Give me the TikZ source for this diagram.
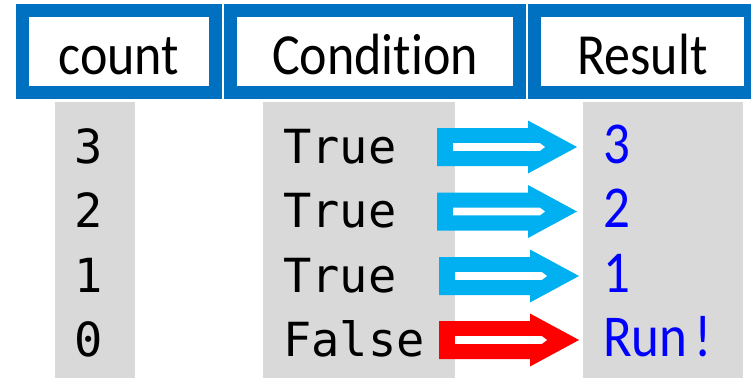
\documentclass[tikz,border=0pt]{standalone}
\usepackage{fontspec}
\usepackage{graphicx}
\setmainfont[Ligatures=CommonOff]{Carlito}
\newfontfamily\codefont{DejaVu Sans Mono}
\usetikzlibrary{positioning}
\definecolor{boxblue}{HTML}{0070C0}
\definecolor{skyblue}{HTML}{00B0F0}
\definecolor{alertred}{HTML}{FF0000}
\definecolor{resblue}{HTML}{0000FF}
\definecolor{colgrey}{HTML}{D9D9D9}
\newcommand\stretchy[1]{\scalebox{1}[1.12]{#1}}

\tikzset{
  pics/fatarrow/.style={code={
    \fill[#1] (0,-19) -- (91,-19) -- (91,-26.5) -- (140,0) -- (91,26.5) -- (91,19) -- (0,19) -- cycle;
    \fill[white] (16,-3.8) -- (103,-3.8) -- (108,0) -- (103,3.8) -- (16,3.8) -- cycle;
  }}
}

\begin{document}
\begin{tikzpicture}[x=1pt,y=-1pt,
  hdr/.style={draw=boxblue,line width=13pt,fill=white,minimum height=82.3pt,inner sep=0pt,
    text height=46.6pt,text depth=0pt,font=\fontsize{52}{60}\selectfont},
  col/.style={fill=colgrey,anchor=north,inner sep=0pt,minimum height=280pt},
  mono/.style={font=\codefont\fontsize{47}{56}\selectfont,inner sep=0pt},
  res/.style={font=\fontsize{53}{60}\selectfont,text=resblue,inner sep=0pt,anchor=base west}]

  \useasboundingbox (0,0) rectangle (751,377);
  \clip (0,0) rectangle (751,377);

  % header boxes
  \node[hdr,minimum width=192.7pt] (hcount) at (118.9,51.65) {\stretchy{count}};
  \node[hdr,minimum width=288.4pt] (hcond)  at (375,51.65)   {\stretchy{Condition}};
  \node[hdr,minimum width=216pt]   (hres)   at (642.5,51.65) {\stretchy{Result}};

  % grey columns
  \node[col,minimum width=80pt]  (gcount) at (95,101.7)  {};
  \node[col,minimum width=192pt] (gcond)  at (359,101.7) {};
  \node[col,minimum width=160pt] (gres)   at (662.7,101.7) {};

  % count values
  \node[mono,anchor=base] (c1) at (89,163)   {3};
  \node[mono,anchor=base] (c2) at (89,227.5) {2};
  \node[mono,anchor=base] (c3) at (89,292)   {1};
  \node[mono,anchor=base] (c4) at (89,356.5) {0};

  % conditions
  \node[mono,anchor=base west] (k1) at (283,163)   {True};
  \node[mono,anchor=base west] (k2) at (283,227.5) {True};
  \node[mono,anchor=base west] (k3) at (283,292)   {True};
  \node[mono,anchor=base west] (k4) at (283,356.5) {False};

  % results
  \node[res] (r1) at (603,163)   {\stretchy{3}};
  \node[res] (r2) at (603,227.5) {\stretchy{2}};
  \node[res] (r3) at (603,292)   {\stretchy{1}};
  \node[res] (r4) at (603,356.5) {\stretchy{Run\kern7pt!}};

  % arrows
  \coordinate (a1) at (437,147);
  \coordinate (a2) at (437,211.5);
  \coordinate (a3) at (439,276);
  \coordinate (a4) at (439,340);
  \pic at (a1) {fatarrow=skyblue};
  \pic at (a2) {fatarrow=skyblue};
  \pic at (a3) {fatarrow=skyblue};
  \pic at (a4) {fatarrow=alertred};
\end{tikzpicture}
\end{document}
